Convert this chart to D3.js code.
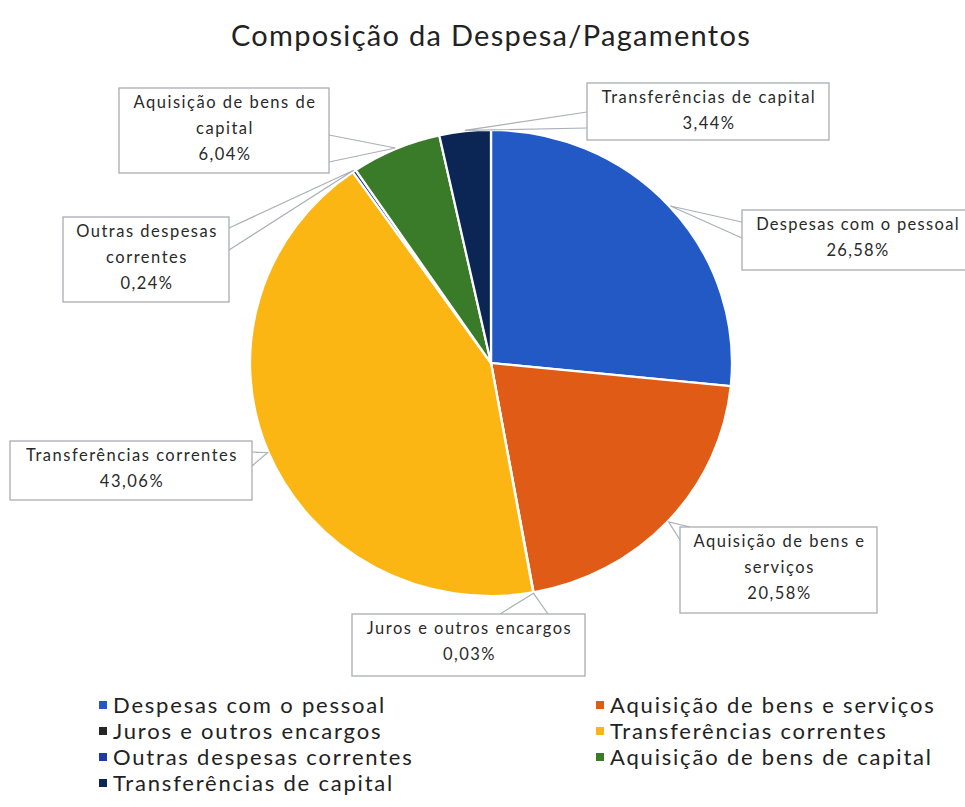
<!DOCTYPE html>
<html>
<head>
<meta charset="utf-8">
<script src="https://cdn.jsdelivr.net/npm/d3@7"></script>
<style>
  body{margin:0;background:#fff;}
  svg{display:block;font-family:Lato,"Open Sans",sans-serif;}
</style>
</head>
<body>
<div id="chart"></div>
<script>
// data
const categories=['Despesas com o pessoal','Aquisição de bens e serviços','Juros e outros encargos',
  'Transferências correntes','Outras despesas correntes','Aquisição de bens de capital','Transferências de capital'];
const values=[26.58,20.58,0.03,43.06,0.24,6.04,3.44];
const colors=['#2359c4','#e05b16','#262626','#fcb614','#1c3ca0','#3a7b29','#0b2554'];
const labelLines=[
  ['Despesas com o pessoal','26,58%'],
  ['Aquisição de bens e','serviços','20,58%'],
  ['Juros e outros encargos','0,03%'],
  ['Transferências correntes','43,06%'],
  ['Outras despesas','correntes','0,24%'],
  ['Aquisição de bens de','capital','6,04%'],
  ['Transferências de capital','3,44%']
];

// callout boxes: x,y,w,h, text centre and wedge base on the box edge
const boxes=[
  {x:742,y:210,w:256,h:60, tx:858, base:[[742,222],[742,238]]},
  {x:680,y:527,w:197,h:86, base:[[680,540],[690,527]]},
  {x:352,y:614,w:233,h:62, base:[[500,614],[548,614]]},
  {x:10, y:441,w:242,h:59, base:[[252,452],[252,466]]},
  {x:63, y:217,w:166,h:85, base:[[229,228],[229,250]]},
  {x:119,y:88, w:210,h:85, base:[[329,135],[329,162]]},
  {x:587,y:83, w:242,h:57, base:[[587,112],[587,128]]}
];

const W=965,H=807;
const cx=491,cy=363,ry=233,rx=241;

const svg=d3.select('#chart').append('svg').attr('width',W).attr('height',H);

svg.append('text')
  .attr('x',491).attr('y',46)
  .attr('text-anchor','middle')
  .attr('font-size',29)
  .attr('letter-spacing',1.3)
  .attr('fill','#222')
  .text('Composição da Despesa/Pagamentos');

const pie=d3.pie().sort(null).value(d=>d);
const arcs=pie(values);
const arc=d3.arc().innerRadius(0).outerRadius(ry);

// pie is slightly wider than tall in the reference
const g=svg.append('g')
  .attr('transform','translate('+cx+','+cy+') scale('+(rx/ry)+',1)');

g.selectAll('path.slice')
  .data(arcs)
  .enter().append('path')
  .attr('class','slice')
  .attr('d',arc)
  .attr('fill',(d,i)=>colors[i])
  .attr('stroke','#fff')
  .attr('stroke-width',2.2);

// callouts
const labels=svg.append('g').attr('class','labels');
arcs.forEach(function(d,i){
  const a=(d.startAngle+d.endAngle)/2;
  const px=cx+(rx+1)*Math.sin(a), py=cy-(ry+1)*Math.cos(a);
  const b=boxes[i];
  labels.append('path')
    .attr('d','M'+b.base[0][0]+','+b.base[0][1]+'L'+px+','+py+'L'+b.base[1][0]+','+b.base[1][1])
    .attr('fill','#fff')
    .attr('stroke','#a9b0b8')
    .attr('stroke-width',1.2);
  labels.append('rect')
    .attr('x',b.x).attr('y',b.y).attr('width',b.w).attr('height',b.h)
    .attr('fill','#fff')
    .attr('stroke','#a9adb2')
    .attr('stroke-width',1.3);
  const tx=b.tx||b.x+b.w/2+1;
  const ls=b.tx?1.3:1.5;
  labelLines[i].forEach(function(t,k){
    labels.append('text')
      .attr('x',tx)
      .attr('y',b.y+20+k*26)
      .attr('text-anchor','middle')
      .attr('font-size',16.5)
      .attr('letter-spacing',ls)
      .attr('fill','#2a2a2a')
      .text(t);
  });
});

// legend
const legend=svg.append('g').attr('class','legend');
categories.forEach(function(c,i){
  const col=i%2, row=Math.floor(i/2);
  const lx=col===0?99:596, ly=705+row*26;
  legend.append('rect')
    .attr('x',lx).attr('y',ly-4).attr('width',8).attr('height',8)
    .attr('fill',colors[i]);
  legend.append('text')
    .attr('x',lx+14).attr('y',ly+7.5)
    .attr('font-size',22)
    .attr('letter-spacing',1.8)
    .attr('fill','#222')
    .text(c);
});
</script>
</body>
</html>
